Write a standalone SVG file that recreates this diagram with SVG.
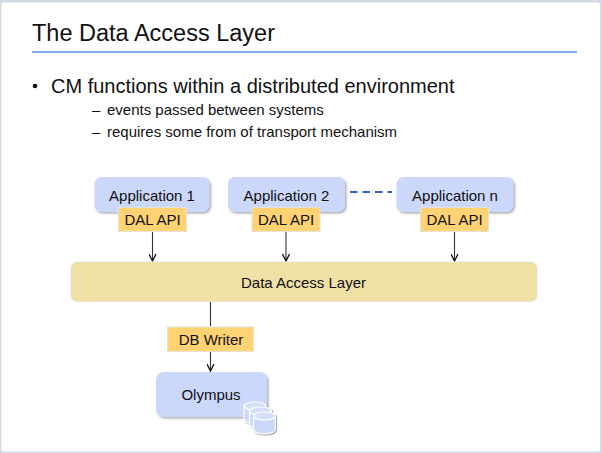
<svg xmlns="http://www.w3.org/2000/svg" width="602" height="453" viewBox="0 0 602 453">
<style>
text{font-family:"Liberation Sans",Arial,sans-serif;fill:#111}
.app{fill:#ccd8fb;filter:url(#sh)}
.api{fill:#ffd274;stroke:#e6e2d4;stroke-width:1}
.t15{font-size:15px;text-anchor:middle}
.sub{font-size:15px}
.c{stroke:#333;stroke-width:1.100;fill:none}
.db{fill:#ccd8fb;stroke:#fff;stroke-width:1.200}
.dbt{fill:#d5dffb;stroke:#fff;stroke-width:1.200}
</style>
<defs>
<filter id="sh" x="-10%" y="-10%" width="125%" height="130%"><feDropShadow dx="1.500" dy="1.500" stdDeviation="0.800" flood-color="#999" flood-opacity="0.800"/></filter>
<filter id="sc" x="-20%" y="-20%" width="150%" height="150%"><feDropShadow dx="0.800" dy="0.800" stdDeviation="0.500" flood-color="#777" flood-opacity="0.900"/></filter>
<marker id="arr" markerUnits="userSpaceOnUse" markerWidth="10" markerHeight="8" refX="8" refY="4" orient="auto"><path d="M1 0.500L8 4L1 7.500" fill="none" stroke="#111" stroke-width="1.300"/></marker>
<g id="cyl" filter="url(#sc)"><path class="db" d="M0 4V17C0 20 5 22 11 22S22 20 22 17V4Z"/><ellipse class="dbt" cx="11" cy="4" rx="11" ry="4"/></g>
</defs>
<rect x="0" y="0" width="602" height="453" fill="#d3dbe8"/>
<rect x="1.500" y="2.500" width="598.500" height="449" rx="2" fill="#fff"/>
<g id="title"><text x="32" y="41" font-size="23.500">The Data Access Layer</text><rect x="32" y="51" width="545" height="2" fill="#85aef0"/></g>
<g id="bullets">
<circle cx="35" cy="86" r="2.300" fill="#111"/>
<text x="51" y="93" font-size="20">CM functions within a distributed environment</text>
<text x="92" y="115" class="sub">–</text><text x="107" y="115" class="sub">events passed between systems</text>
<text x="92" y="137" class="sub">–</text><text x="107" y="137" class="sub">requires some from of transport mechanism</text>
</g>
<g id="connectors">
<path class="c" d="M152.500 232V261" marker-end="url(#arr)"/>
<path class="c" d="M286 232V261" marker-end="url(#arr)"/>
<path class="c" d="M454.500 232V261" marker-end="url(#arr)"/>
<path class="c" d="M210.500 302V326"/>
<path class="c" d="M210.500 352V371" marker-end="url(#arr)"/>
<path d="M350 192H392" stroke="#2f63c4" stroke-width="1.800" stroke-dasharray="7.500 5" fill="none"/>
</g>
<g id="app1"><rect class="app" x="94.500" y="177" width="115" height="35" rx="7"/><text class="t15" x="152" y="201">Application 1</text></g>
<g id="app2"><rect class="app" x="228" y="177" width="117" height="35" rx="7"/><text class="t15" x="286.500" y="201">Application 2</text></g>
<g id="appn"><rect class="app" x="396.500" y="177" width="117" height="35" rx="7"/><text class="t15" x="455" y="201">Application n</text></g>
<g id="api1"><rect class="api" x="118.500" y="207.500" width="68" height="24"/><text class="t15" x="152.500" y="225">DAL API</text></g>
<g id="api2"><rect class="api" x="252" y="207.500" width="68" height="24"/><text class="t15" x="286" y="225">DAL API</text></g>
<g id="apin"><rect class="api" x="420.500" y="207.500" width="68" height="24"/><text class="t15" x="454.500" y="225">DAL API</text></g>
<g id="dal"><rect x="71" y="262" width="466" height="39.500" rx="6" fill="#f0e0a6" stroke="#e8e4d4"/><text class="t15" x="303.500" y="288">Data Access Layer</text></g>
<g id="dbwriter"><rect class="api" x="167.500" y="327" width="86" height="24.500"/><text class="t15" x="211" y="345">DB Writer</text></g>
<g id="olympus"><rect class="app" x="156" y="372" width="111" height="45" rx="8"/><text class="t15" x="211" y="400">Olympus</text>
<use href="#cyl" x="244" y="402"/><use href="#cyl" x="249.500" y="407"/><use href="#cyl" x="253.500" y="412"/></g>
</svg>
